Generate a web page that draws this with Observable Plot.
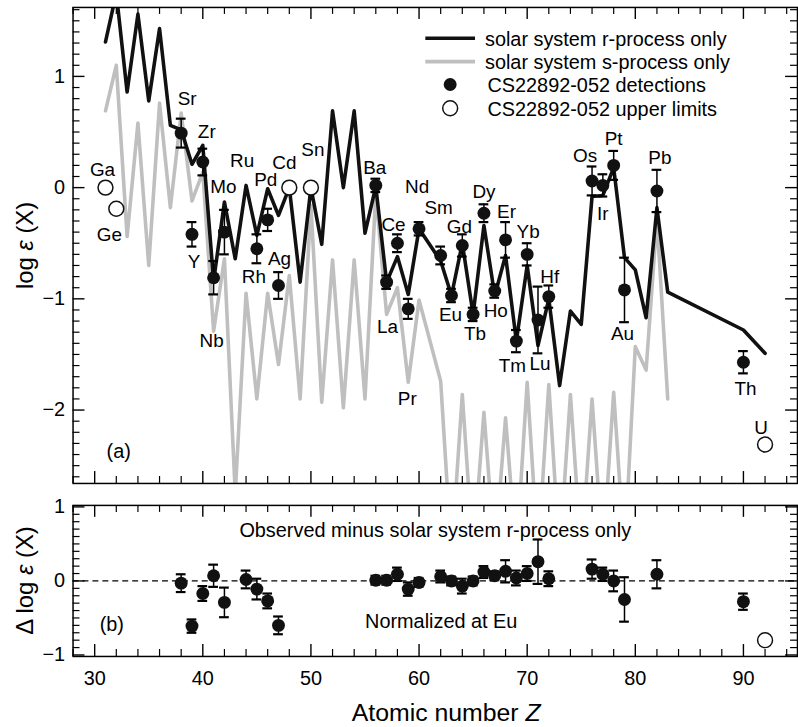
<!DOCTYPE html>
<html><head><meta charset="utf-8">
<script src="https://cdn.jsdelivr.net/npm/d3@7"></script>
<script src="https://cdn.jsdelivr.net/npm/@observablehq/plot@0.6"></script>
<style>
body{margin:0;background:#fff;}
#chart{position:relative;width:798px;height:727px;overflow:hidden;background:#fff;}
#chart svg{position:absolute;left:0;}
</style></head><body><div id="chart"></div>
<script>
// ---------- data ----------
// solar-system r-process only (black line)
const rZ   = [31,32,33,34,35,36,37,38,39,40,41,42,43,44,45,46,47,48,49,50,51,52,53,54,55,56,57,58,59,60,62,63,64,65,66,67,68,69,70,71,72,73,74,75,76,77,78,79,80,81,82,83,90,92];
const rVal = [1.31,1.75,0.86,1.56,0.78,1.43,0.56,0.52,0.21,0.38,-0.84,-0.13,-0.64,0.02,-0.43,-0.01,-0.25,0.0,-0.85,0.0,-0.51,0.69,0.0,0.69,-0.41,0.01,-0.85,-0.62,-0.96,-0.37,-0.66,-0.97,-0.50,-1.14,-0.34,-0.97,-0.61,-1.38,-0.70,-1.42,-1.00,-1.78,-1.11,-1.23,-0.08,-0.07,0.18,-0.63,-0.74,-1.17,-0.18,-0.94,-1.28,-1.49];
// solar-system s-process only (grey line)
const sZ   = [31,32,33,34,35,36,37,38,39,40,41,42,43,44,45,46,47,48,49,50,51,52,53,54,55,56,57,58,59,60,62,63,64,65,66,67,68,69,70,71,72,73,74,75,76,77,78,79,80,81,82,83];
const sVal = [0.69,1.10,-0.44,0.58,-0.70,0.76,-0.18,0.67,-0.12,0.14,-1.29,-0.64,-2.75,-0.95,-1.90,-0.95,-1.59,-0.79,-1.90,-0.16,-1.93,-0.65,-1.98,-0.65,-1.90,-0.05,-1.14,-0.90,-1.75,-1.01,-1.74,-3.3,-1.86,-3.3,-2.02,-3.3,-2.07,-3.3,-1.75,-3.3,-1.77,-3.3,-1.86,-3.3,-1.90,-3.3,-1.84,-3.3,-1.43,-1.64,-0.28,-1.90];
// CS22892-052 detections
const detEl  = ["Sr","Y","Zr","Nb","Mo","Rh","Pd","Ag","Ba","La","Ce","Pr","Nd","Sm","Eu","Gd","Tb","Dy","Ho","Er","Tm","Yb","Lu","Hf","Os","Ir","Pt","Au","Pb","Th"];
const detZ   = [38,39,40,41,42,45,46,47,56,57,58,59,60,62,63,64,65,66,67,68,69,70,71,72,76,77,78,79,82,90];
const detVal = [0.49,-0.42,0.23,-0.81,-0.40,-0.55,-0.29,-0.88,0.02,-0.85,-0.50,-1.09,-0.37,-0.61,-0.97,-0.52,-1.14,-0.23,-0.93,-0.47,-1.38,-0.60,-1.19,-0.98,0.06,0.02,0.20,-0.92,-0.03,-1.57];
const detErr = [0.13,0.11,0.12,0.15,0.20,0.13,0.10,0.12,0.06,0.06,0.08,0.09,0.06,0.08,0.06,0.10,0.06,0.08,0.06,0.16,0.10,0.10,0.30,0.10,0.13,0.10,0.13,0.29,0.19,0.10];
// CS22892-052 upper limits
const limEl  = ["Ga","Ge","Cd","Sn","U"];
const limZ   = [31,32,48,50,92];
const limVal = [0.0,-0.19,0.0,0.0,-2.31];
// panel (b): observed minus solar r-process
const resZ   = [38,39,40,41,42,44,45,46,47,56,57,58,59,60,62,63,64,65,66,67,68,69,70,71,72,76,77,78,79,82,90];
const resVal = [-0.03,-0.61,-0.17,0.07,-0.29,0.02,-0.11,-0.27,-0.60,0.01,0.01,0.09,-0.11,-0.02,0.06,0.0,-0.07,0.0,0.12,0.07,0.13,0.04,0.10,0.26,0.03,0.16,0.09,0.0,-0.25,0.09,-0.28];
const resErr = [0.12,0.09,0.10,0.15,0.20,0.12,0.14,0.10,0.12,0.06,0.06,0.09,0.09,0.06,0.08,0.06,0.10,0.06,0.08,0.06,0.15,0.10,0.10,0.30,0.10,0.13,0.09,0.14,0.30,0.19,0.11];
const resLimZ   = [92];
const resLimVal = [-0.80];
// ticks
const xTicks  = [30,40,50,60,70,80,90];
const yTicksA = [-2,-1,0,1];
const yTicksB = [-1,0,1];
// label offsets (pixels) relative to their element
const labelOffset = {Ga:[-3,-18],Ge:[-7,26],Sr:[6,-34],Zr:[4,-30],Y:[2,28],Mo:[-1,-45],Ru:[-4,-25],Pd:[-2,-40],Cd:[-5,-25],Sn:[2,-38],Nb:[-2,64],Rh:[-3,28],Ag:[1,-27],Ba:[-1,-18],Ce:[-4,-18],La:[1,45],Pr:[-1,91],Nd:[-2,-42],Sm:[-2,-48],Gd:[-3,-19],Eu:[-1,20],Tb:[2,20],Dy:[0,-21],Ho:[1,20],Er:[1,-28],Yb:[1,-23],Tm:[-4,25],Lu:[2,44],Hf:[1,-20],Os:[-7,-25],Ir:[0,29],Pt:[0,-27],Au:[-2,44],Pb:[3,-33],Th:[2,27],U:[-4,-17]};

// ---------- tables ----------
const rData = rZ.map((Z,i)=>({Z, v:rVal[i]}));
const sData = sZ.map((Z,i)=>({Z, v:sVal[i]}));
const det = detZ.map((Z,i)=>({el:detEl[i], Z, v:detVal[i], e:detErr[i]}));
const lim = limZ.map((Z,i)=>({el:limEl[i], Z, v:limVal[i]}));
const res = resZ.map((Z,i)=>({Z, v:resVal[i], e:resErr[i]}));
const resLim = resLimZ.map((Z,i)=>({Z, v:resLimVal[i]}));
const labels = [...det, ...lim, {el:"Ru", Z:44, v:rVal[rZ.indexOf(44)]}];

// ---------- layout ----------
const FONT = "'Liberation Sans', Arial, Helvetica, sans-serif";
const PW = 803, ML = 73, MR = 1, FW = PW - ML - MR;
const X_DOMAIN = [28, 95];
const style = {fontFamily: FONT, fontSize: "20px", background: "transparent", overflow: "visible", color: "black"};
const fmt = d => String(d).replace("-", "\u2212");

function frameTicks(fh, yMajor, yMinor) {
  const L = 12, S = 7;
  const xMinor = d3.range(28, 95.01, 2).filter(v => v % 10 !== 0);
  return [
    Plot.tickX(xTicks, {x: d => d, insetTop: fh - L, strokeWidth: 1.4}),
    Plot.tickX(xTicks, {x: d => d, insetBottom: fh - L, strokeWidth: 1.4}),
    Plot.tickX(xMinor, {x: d => d, insetTop: fh - S, strokeWidth: 1.2}),
    Plot.tickX(xMinor, {x: d => d, insetBottom: fh - S, strokeWidth: 1.2}),
    Plot.tickY(yMajor, {y: d => d, insetRight: FW - L, strokeWidth: 1.4}),
    Plot.tickY(yMajor, {y: d => d, insetLeft: FW - L, strokeWidth: 1.4}),
    Plot.tickY(yMinor, {y: d => d, insetRight: FW - S, strokeWidth: 1.2}),
    Plot.tickY(yMinor, {y: d => d, insetLeft: FW - S, strokeWidth: 1.2})
  ];
}
function errorBars(data) {
  const cap = 0.45;
  return [
    Plot.ruleX(data, {x: "Z", y1: d => d.v - d.e, y2: d => d.v + d.e, strokeWidth: 1.5}),
    Plot.ruleY(data, {y: d => d.v + d.e, x1: d => d.Z - cap, x2: d => d.Z + cap, strokeWidth: 2.2}),
    Plot.ruleY(data, {y: d => d.v - d.e, x1: d => d.Z - cap, x2: d => d.Z + cap, strokeWidth: 2.2})
  ];
}
const minorA = d3.range(-26, 17).map(k => k / 10).filter(v => !Number.isInteger(v));
const minorB = d3.range(-10, 11).map(k => k / 10).filter(v => !Number.isInteger(v));

// ---------- panel (a) ----------
const HA = 492, MTA = 7, MBA = 6;
const plotA = Plot.plot({
  width: PW, height: HA, marginLeft: ML, marginRight: MR, marginTop: MTA, marginBottom: MBA,
  x: {domain: X_DOMAIN, axis: null},
  y: {domain: [-2.66, 1.62], axis: null},
  style,
  marks: [
    Plot.line(sData, {x: "Z", y: "v", stroke: "#bfbfbf", strokeWidth: 3.6, clip: true}),
    Plot.line(rData, {x: "Z", y: "v", stroke: "#111", strokeWidth: 3.6, clip: true}),
    ...errorBars(det),
    Plot.dot(det, {x: "Z", y: "v", r: 6.5, fill: "#111"}),
    Plot.dot(lim, {x: "Z", y: "v", r: 7.5, fill: "white", stroke: "#111", strokeWidth: 1.5}),
    ...labels.map(l => Plot.text([l], {x: "Z", y: "v", text: "el", dx: labelOffset[l.el][0], dy: labelOffset[l.el][1], fontSize: 19})),
    Plot.text(["(a)"], {frameAnchor: "bottom-left", text: d => d, dx: 46, dy: -32, textAnchor: "middle", lineAnchor: "middle", fontSize: 20}),
    Plot.axisY({ticks: yTicksA, tickSize: 0, tickPadding: 8, fontSize: 20, label: null, tickFormat: fmt}),
    Plot.frame({strokeWidth: 1.5}),
    ...frameTicks(HA - MTA - MBA, yTicksA, minorA)
  ]
});

// ---------- panel (b) ----------
const TOPB = 492, HB = 235, MTB = 13, MBB = 70;
const plotB = Plot.plot({
  width: PW, height: HB, marginLeft: ML, marginRight: MR, marginTop: MTB, marginBottom: MBB,
  x: {domain: X_DOMAIN, axis: null},
  y: {domain: [-1.02, 1.02], axis: null},
  style,
  marks: [
    Plot.ruleY([0], {strokeDasharray: "6,4", strokeWidth: 1.2}),
    ...errorBars(res),
    Plot.dot(res, {x: "Z", y: "v", r: 6.5, fill: "#111"}),
    Plot.dot(resLim, {x: "Z", y: "v", r: 7.5, fill: "white", stroke: "#111", strokeWidth: 1.5}),
    Plot.text(["Observed minus solar system r-process only"], {frameAnchor: "top", text: d => d, dy: 25, textAnchor: "middle", lineAnchor: "middle", fontSize: 20}),
    Plot.text(["Normalized at Eu"], {frameAnchor: "bottom", text: d => d, dx: 6, dy: -35, textAnchor: "middle", lineAnchor: "middle", fontSize: 20}),
    Plot.text(["(b)"], {frameAnchor: "bottom-left", text: d => d, dx: 39, dy: -32, textAnchor: "middle", lineAnchor: "middle", fontSize: 20}),
    Plot.axisY({ticks: yTicksB, tickSize: 0, tickPadding: 8, fontSize: 20, label: null, tickFormat: fmt}),
    Plot.axisX({ticks: xTicks, tickSize: 0, tickPadding: 14, fontSize: 20, label: null, tickFormat: fmt}),
    Plot.frame({strokeWidth: 1.5}),
    ...frameTicks(HB - MTB - MBB, yTicksB, minorB)
  ]
});

const chart = document.getElementById("chart");
plotA.style.top = "0px";
plotB.style.top = TOPB + "px";
chart.appendChild(plotA);
chart.appendChild(plotB);

// ---------- axis titles ----------
function yTitle(svg, cx, cy, prefix) {
  const t = d3.select(svg).append("text")
    .attr("transform", `translate(${cx},${cy}) rotate(-90)`)
    .attr("text-anchor", "middle").attr("dominant-baseline", "central")
    .attr("font-family", FONT).attr("font-size", 24).attr("fill", "black");
  t.append("tspan").text(prefix + "log ");
  t.append("tspan").attr("font-style", "italic").text("ε");
  t.append("tspan").text(" (X)");
}
yTitle(plotA, 24, 247, "");
yTitle(plotB, 24, 89, "Δ ");
const xt = d3.select(plotB).append("text")
  .attr("x", 449).attr("y", 221).attr("text-anchor", "middle").attr("dominant-baseline", "central")
  .attr("font-family", FONT).attr("font-size", 25).attr("fill", "black");
xt.append("tspan").text("Atomic number ");
xt.append("tspan").attr("font-style", "italic").text("Z");

// ---------- legend ----------
const lg = d3.select(plotA).append("g").attr("font-family", FONT).attr("font-size", 20).attr("fill", "black").attr("text-anchor", "start");
lg.append("line").attr("x1", 428).attr("x2", 478).attr("y1", 38.5).attr("y2", 38.5).attr("stroke", "#111").attr("stroke-width", 3.6);
lg.append("line").attr("x1", 428).attr("x2", 478).attr("y1", 62).attr("y2", 62).attr("stroke", "#bfbfbf").attr("stroke-width", 3.6);
lg.append("circle").attr("cx", 453).attr("cy", 85).attr("r", 6.5).attr("fill", "#111");
lg.append("circle").attr("cx", 453).attr("cy", 109).attr("r", 7.5).attr("fill", "white").attr("stroke", "#111").attr("stroke-width", 1.5);
[["solar system r-process only", 488, 46],
 ["solar system s-process only", 488, 69.5],
 ["CS22892-052 detections", 490.5, 92.5],
 ["CS22892-052 upper limits", 490.5, 116.5]].forEach(([s, x, y]) =>
  lg.append("text").attr("x", x).attr("y", y).attr("text-anchor", "start").text(s));
</script></body></html>
